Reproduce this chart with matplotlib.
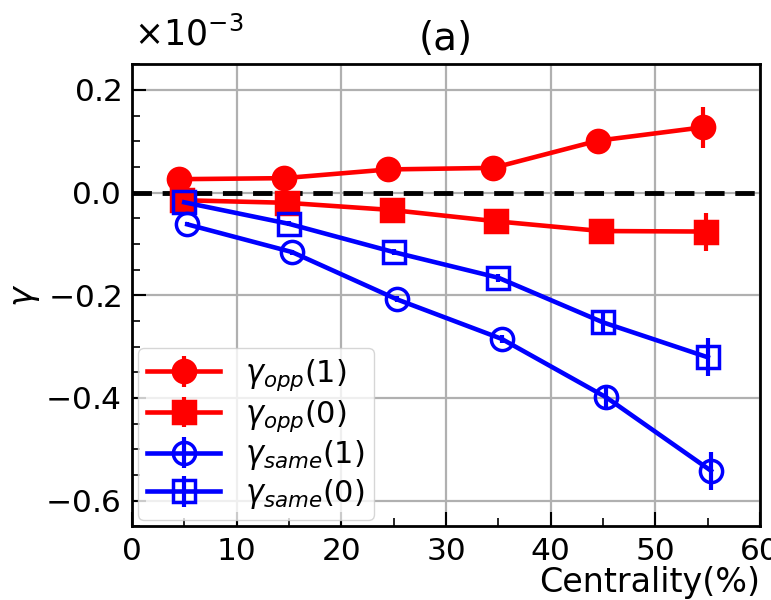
import matplotlib
matplotlib.use("Agg")
import matplotlib.pyplot as plt
from matplotlib.ticker import MultipleLocator, ScalarFormatter

# centrality bins (%), slightly shifted per series
x_opp1 = [4.5, 14.5, 24.5, 34.5, 44.5, 54.5]
x_opp0 = [4.8, 14.8, 24.8, 34.8, 44.8, 54.8]
x_same1 = [5.3, 15.3, 25.3, 35.3, 45.3, 55.3]
x_same0 = [5.0, 15.0, 25.0, 35.0, 45.0, 55.0]

# gamma values (x 1e-3)
g_opp1 = [0.026, 0.028, 0.045, 0.048, 0.101, 0.127]
g_opp0 = [-0.015, -0.020, -0.034, -0.056, -0.075, -0.076]
g_same1 = [-0.062, -0.116, -0.208, -0.285, -0.399, -0.542]
g_same0 = [-0.019, -0.061, -0.116, -0.166, -0.253, -0.321]

e_opp1 = [0.004, 0.005, 0.006, 0.008, 0.017, 0.040]
e_opp0 = [0.004, 0.005, 0.006, 0.008, 0.015, 0.037]
e_same1 = [0.004, 0.005, 0.006, 0.008, 0.018, 0.037]
e_same0 = [0.004, 0.005, 0.006, 0.008, 0.018, 0.037]

plt.rcParams['font.family'] = 'DejaVu Sans'
plt.rcParams['mathtext.fontset'] = 'dejavusans'

fig = plt.figure(figsize=(7.71, 6.0), dpi=100)
ax = fig.add_axes([0.171, 0.123, 0.815, 0.770])

scale = 1e-3
kw = dict(lw=3.3, elinewidth=3, capsize=0, markersize=16, markeredgewidth=2.5)

ax.errorbar(x_opp1, [v * scale for v in g_opp1], yerr=[v * scale for v in e_opp1],
            fmt='-o', color='red', label=r'$\gamma_{opp}(1)$', **kw)
ax.errorbar(x_opp0, [v * scale for v in g_opp0], yerr=[v * scale for v in e_opp0],
            fmt='-s', color='red', label=r'$\gamma_{opp}(0)$', **kw)
ax.errorbar(x_same1, [v * scale for v in g_same1], yerr=[v * scale for v in e_same1],
            fmt='-o', color='blue', mfc='none', label=r'$\gamma_{same}(1)$', **kw)
ax.errorbar(x_same0, [v * scale for v in g_same0], yerr=[v * scale for v in e_same0],
            fmt='-s', color='blue', mfc='none', label=r'$\gamma_{same}(0)$', **kw)

ax.axhline(0, color='black', ls='--', lw=3.5, dashes=(4, 2.2), zorder=1)

ax.set_xlim(0, 60)
ax.set_ylim(-0.65e-3, 0.25e-3)
ax.xaxis.set_major_locator(MultipleLocator(10))
ax.xaxis.set_minor_locator(MultipleLocator(5))
ax.yaxis.set_major_locator(MultipleLocator(0.2e-3))
ax.yaxis.set_minor_locator(MultipleLocator(0.05e-3))
fmt = ScalarFormatter(useMathText=True)
fmt.set_powerlimits((-3, -3))
ax.yaxis.set_major_formatter(fmt)
ax.yaxis.get_offset_text().set_visible(False)
ax.text(0.003, 1.04, r'$\times10^{-3}$', transform=ax.transAxes,
        fontsize=25, ha='left', va='baseline')

ax.tick_params(which='both', direction='in', labelsize=22.5)
ax.tick_params(which='major', length=10, width=1.5, pad=8)
ax.tick_params(which='minor', length=6, width=1.2)
for s in ax.spines.values():
    s.set_linewidth(2)

ax.grid(True, color='#b0b0b0', lw=1.6)
ax.set_axisbelow(True)

ax.set_xlabel('Centrality(%)', fontsize=24, loc='right', labelpad=0)
ax.set_ylabel(r'$\gamma$', fontsize=24, labelpad=2)
ax.set_title('(a)', fontsize=28, pad=10)

ax.legend(loc='lower left', fontsize=22, handlelength=2.4, borderpad=0.3,
          labelspacing=0.15, handletextpad=0.8, borderaxespad=0.2)

fig.savefig('out.png', dpi=100)
